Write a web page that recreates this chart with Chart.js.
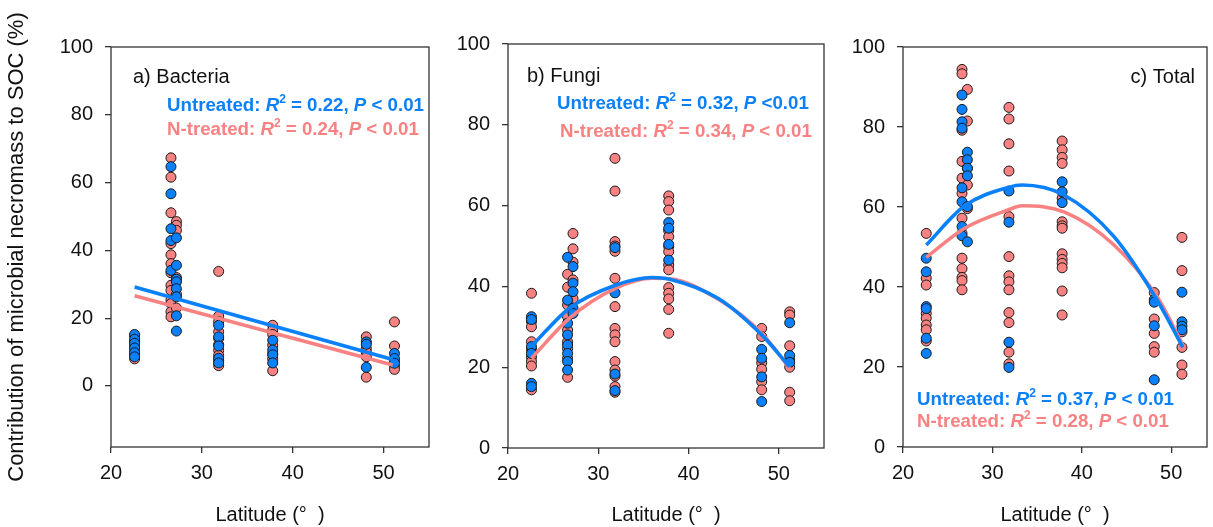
<!DOCTYPE html>
<html>
<head>
<meta charset="utf-8">
<script src="https://cdn.jsdelivr.net/npm/chart.js@4.4.1/dist/chart.umd.min.js"></script>
<style>
  html, body { margin: 0; padding: 0; background: #fff; }
  #wrap { position: relative; width: 1213px; height: 527px; overflow: hidden; }
  canvas { position: absolute; top: 0; }
</style>
</head>
<body>
<div id="wrap">
  <canvas id="chartA" width="440" height="527" style="left:0px"></canvas>
  <canvas id="chartB" width="390" height="527" style="left:440px"></canvas>
  <canvas id="chartC" width="383" height="527" style="left:830px"></canvas>
</div>
<script>
// ── Data ─────────────────────────────────────────────────
// sampling sites (latitude); the 26.6 / 27.2 pair sit side by side
const sites = [22.6, 26.6, 27.2, 31.85, 37.8, 48.1, 51.2];
const xTicks = [20, 30, 40, 50];
const yTicks = [0, 20, 40, 60, 80, 100];

// a) Bacteria, one small array per site
const bacUntreated = [
  [15.2, 13.8, 12.6, 11.2, 9.8, 8.6],
  [64.7, 56.7, 46.4, 42.9, 34.1],
  [43.7, 35.6, 31.5, 30.7, 28.7, 26.3, 20.7, 16.2],
  [17.9, 14.5, 11.8, 8.2, 6.8],
  [13.5, 10.6, 9.2, 6.8],
  [13.0, 12.3, 5.5],
  [9.6, 8.1, 6.7]
];
const bacTreated = [
  [14.8, 13.2, 12.0, 10.5, 9.2, 8.0],
  [67.3, 61.6, 51.1, 42.0, 38.7, 36.1, 33.4, 29.7, 28.2, 25.3, 24.3, 21.9, 20.4],
  [48.5, 47.4, 45.9, 32.0, 27.0, 23.0],
  [33.8, 20.6, 19.0, 16.0, 14.0, 12.2, 10.5, 9.0, 7.5, 6.0],
  [17.9, 16.5, 15.2, 12.0, 9.5, 8.0, 4.5],
  [14.5, 11.0, 10.0, 8.6, 2.6],
  [18.9, 11.8, 7.5, 5.8, 4.9]
];
const bacFitLat = [22.6, 51.0];
const bacFitUntreated = [29.2, 7.8];
const bacFitTreated = [26.6, 6.2];
const bacStats = { untreated: ['0.22', '< 0.01'], treated: ['0.24', '< 0.01'] };

// b) Fungi
const funUntreated = [
  [32.5, 31.8, 25.1, 23.4, 16.0, 15.2],
  [47.2, 36.6, 30.9, 28.0, 25.5, 23.4, 21.4, 19.3],
  [44.9, 40.8, 38.7, 34.6, 33.3],
  [49.6, 38.4, 18.3, 14.2],
  [55.8, 54.4, 50.4, 46.5],
  [24.4, 22.2, 17.6, 11.5],
  [31.0, 22.9, 21.2]
];
const funTreated = [
  [38.3, 31.3, 30.0, 26.3, 24.4, 22.5, 21.4, 20.3, 14.4],
  [43.0, 39.8, 35.4, 32.5, 29.2, 26.3, 24.6, 22.2, 17.5],
  [53.1, 49.3, 46.0, 41.6, 37.0],
  [71.7, 63.6, 51.1, 50.0, 48.7, 42.0, 35.0, 29.6, 28.0, 26.3, 21.4, 19.3, 17.8, 15.2, 13.8],
  [62.4, 61.0, 58.9, 53.8, 52.3, 49.9, 48.6, 45.3, 44.1, 39.7, 38.3, 36.9, 34.3, 28.4],
  [29.6, 27.6, 21.1, 19.5, 16.4, 14.4],
  [33.7, 32.9, 25.3, 21.8, 20.0, 13.8, 11.7]
];
const funFitLat = [22.6, 26.8, 31.9, 36.0, 37.9, 43.3, 48.1, 51.2];
const funFitUntreated = [25.2, 34.6, 40.3, 42.2, 41.8, 37.0, 28.0, 20.1];
const funFitTreated = [22.2, 32.1, 39.5, 42.0, 41.9, 36.8, 28.4, 19.7];
const funStats = { untreated: ['0.32', '<0.01'], treated: ['0.34', '< 0.01'] };

// c) Total
const totUntreated = [
  [47.2, 43.8, 35.1, 34.6, 27.2, 23.4],
  [88.0, 84.4, 81.3, 79.7, 64.8, 61.3, 55.1, 52.8],
  [73.7, 71.8, 69.7, 67.8, 60.1, 51.3],
  [64.0, 56.2, 26.2, 19.9],
  [66.3, 63.8, 61.1],
  [36.8, 36.2, 30.3, 16.8],
  [38.7, 31.3, 30.2, 29.3]
];
const totTreated = [
  [53.4, 42.2, 40.5, 33.4, 32.2, 30.5, 29.3, 26.5],
  [94.4, 93.3, 79.2, 71.4, 67.2, 63.4, 57.2, 53.4, 47.2, 44.6, 42.4, 41.6, 39.3],
  [89.4, 81.5, 69.7, 65.5, 59.6],
  [84.9, 82.0, 75.8, 69.0, 57.6, 47.6, 42.8, 41.3, 39.3, 33.6, 31.1, 23.7, 20.8],
  [76.5, 74.3, 72.4, 70.9, 62.2, 56.3, 55.3, 54.7, 48.3, 46.9, 45.9, 44.8, 39.0, 33.0],
  [38.6, 32.0, 28.4, 25.1, 23.7],
  [52.4, 44.1, 28.8, 24.9, 20.5, 18.2]
];
const totFitLat = [22.6, 26.9, 31.8, 33.3, 38.0, 43.6, 48.4, 51.3];
const totFitUntreated = [50.5, 60.3, 64.9, 65.5, 63.0, 52.6, 36.8, 24.9];
const totFitTreated = [47.4, 54.7, 59.3, 60.3, 58.8, 50.5, 37.6, 25.5];
const totStats = { untreated: ['0.37', '< 0.01'], treated: ['0.28', '< 0.01'] };

// ── Style ────────────────────────────────────────────────
const BLUE = '#0A80FA';
const SALMON = '#F88282';
const FONT = "'Liberation Sans', Arial, sans-serif";
const AXIS = '#333';

function toPoints(groups) {
    return groups.flatMap((vals, i) => vals.map(v => ({ x: sites[i], y: v })));
}
function toLine(xs, ys) {
    return xs.map((x, i) => ({ x: x, y: ys[i] }));
}
function statSegs(name, stats) {
    return [[name + ': ', 'bold'], ['R', 'italic bold'], ['2', 'sup'],
            [' = ' + stats[0] + ', ', 'bold'], ['P', 'italic bold'], [' ' + stats[1], 'bold']];
}

// frame around plot area + annotation texts
const framePlugin = {
    id: 'frame',
    afterDraw(chart, args, opts) {
        const { ctx, chartArea: a } = chart;
        ctx.save();
        ctx.strokeStyle = AXIS;
        ctx.lineWidth = 1.3;
        ctx.strokeRect(a.left, a.top, a.right - a.left, a.bottom - a.top);
        (opts.texts || []).forEach(t => {
            const size = t.size;
            const fontOf = st => (st === 'sup' ? 'bold ' + Math.round(size * 0.62) + 'px ' : st + ' ' + size + 'px ') + FONT;
            let total = 0;
            t.segs.forEach(s => { ctx.font = fontOf(s[1]); total += ctx.measureText(s[0]).width; });
            let x = t.align === 'right' ? t.x - total : t.x;
            ctx.fillStyle = t.color;
            ctx.textBaseline = 'alphabetic';
            ctx.textAlign = 'left';
            t.segs.forEach(s => {
                ctx.font = fontOf(s[1]);
                const dy = s[1] === 'sup' ? -size * 0.42 : 0;
                ctx.fillText(s[0], x, t.y + dy);
                x += ctx.measureText(s[0]).width;
            });
        });
        ctx.restore();
    }
};

function makePanel(id, p) {
    const pointDs = (label, groups, color, order) => ({
        type: 'scatter', label: label, data: toPoints(groups), order: order,
        backgroundColor: color, borderColor: '#1a1a1a', borderWidth: 1,
        pointRadius: 5, pointHoverRadius: 5
    });
    const lineDs = (label, xs, ys, color, order) => ({
        type: 'line', label: label, data: toLine(xs, ys), order: order,
        borderColor: color, borderWidth: 3.6, pointRadius: 0, fill: false,
        cubicInterpolationMode: 'monotone'
    });
    return new Chart(document.getElementById(id), {
        type: 'scatter',
        data: {
            datasets: [
                lineDs('Untreated fit', p.fitLat, p.fitU, BLUE, 0),
                lineDs('N-treated fit', p.fitLat, p.fitT, SALMON, 1),
                pointDs('Untreated', p.untreated, BLUE, 2),
                pointDs('N-treated', p.treated, SALMON, 3)
            ]
        },
        options: {
            responsive: false, animation: false,
            layout: { padding: { top: p.top, right: p.right, left: 0, bottom: 0 } },
            plugins: {
                legend: { display: false },
                tooltip: { enabled: false },
                frame: { texts: p.texts }
            },
            scales: {
                x: {
                    type: 'linear', min: 20, max: p.xMax,
                    afterBuildTicks: s => { s.ticks = xTicks.map(v => ({ value: v })); },
                    afterFit: s => { s.height = p.xH; },
                    grid: { drawOnChartArea: false, drawTicks: true, tickLength: 6, color: AXIS, lineWidth: 1.3 },
                    border: { display: false },
                    ticks: { color: '#111', font: { family: FONT, size: 20 }, padding: 8, maxRotation: 0 },
                    title: { display: true, text: 'Latitude (°  )', color: '#111', font: { family: FONT, size: 20 }, padding: { top: 0, bottom: 0 } }
                },
                y: {
                    type: 'linear', min: p.yMin, max: 100,
                    afterBuildTicks: s => { s.ticks = yTicks.map(v => ({ value: v })); },
                    afterFit: s => { s.width = p.yW; },
                    grid: { drawOnChartArea: false, drawTicks: true, tickLength: 6, color: AXIS, lineWidth: 1.3 },
                    border: { display: false },
                    ticks: { color: '#111', font: { family: FONT, size: 20 }, padding: 12 },
                    title: {
                        display: !!p.yTitle, text: p.yTitle || '', color: '#111',
                        font: { family: FONT, size: 22 }, padding: { top: 4, bottom: 0 }
                    }
                }
            }
        },
        plugins: [framePlugin]
    });
}

Chart.defaults.font.family = FONT;

makePanel('chartA', {
    untreated: bacUntreated, treated: bacTreated,
    fitLat: bacFitLat, fitU: bacFitUntreated, fitT: bacFitTreated,
    yMin: -18, xMax: 55, yW: 111, xH: 80, top: 47, right: 11,
    yTitle: 'Contribution of microbial necromass to SOC (%)',
    texts: [
        { segs: [['a) Bacteria', 'normal']], x: 133, y: 83, size: 20, color: '#111' },
        { segs: statSegs('Untreated', bacStats.untreated), x: 167, y: 111, size: 18.7, color: BLUE },
        { segs: statSegs('N-treated', bacStats.treated), x: 167, y: 135, size: 18.7, color: SALMON }
    ]
});

makePanel('chartB', {
    untreated: funUntreated, treated: funTreated,
    fitLat: funFitLat, fitU: funFitUntreated, fitT: funFitTreated,
    yMin: 0, xMax: 55, yW: 68, xH: 79, top: 44, right: 5,
    texts: [
        { segs: [['b) Fungi', 'normal']], x: 87, y: 82, size: 20, color: '#111' },
        { segs: statSegs('Untreated', funStats.untreated), x: 117, y: 109, size: 18.7, color: BLUE },
        { segs: statSegs('N-treated', funStats.treated), x: 120, y: 137, size: 18.7, color: SALMON }
    ]
});

makePanel('chartC', {
    untreated: totUntreated, treated: totTreated,
    fitLat: totFitLat, fitU: totFitUntreated, fitT: totFitTreated,
    yMin: 0, xMax: 54, yW: 73, xH: 80, top: 47, right: 4,
    texts: [
        { segs: [['c) Total', 'normal']], x: 365, y: 83, size: 20, color: '#111', align: 'right' },
        { segs: statSegs('Untreated', totStats.untreated), x: 87, y: 405, size: 18.7, color: BLUE },
        { segs: statSegs('N-treated', totStats.treated), x: 87, y: 427, size: 18.7, color: SALMON }
    ]
});
</script>
</body>
</html>
